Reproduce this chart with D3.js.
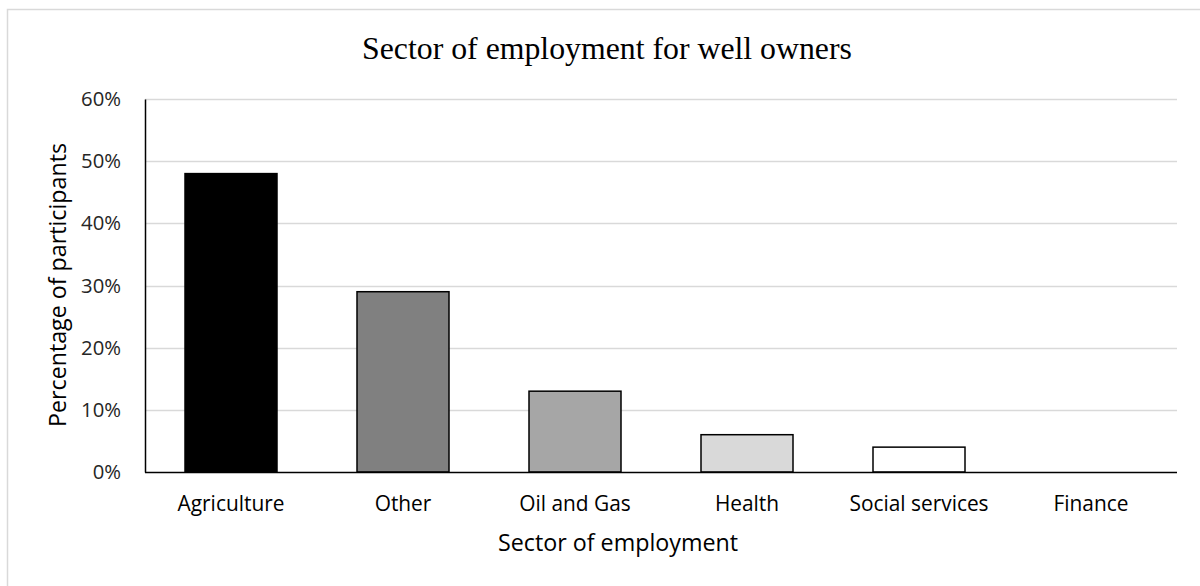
<!DOCTYPE html>
<html>
<head>
<meta charset="utf-8">
<script src="https://cdn.jsdelivr.net/npm/d3@7"></script>
<style>
  html, body { margin: 0; padding: 0; background: #fff; }
  svg { display: block; }
</style>
</head>
<body>
<svg id="chart" width="1200" height="586"></svg>
<script>
const categories = ["Agriculture", "Other", "Oil and Gas", "Health", "Social services", "Finance"];
const values = [0.48, 0.29, 0.13, 0.06, 0.04, 0.0];
const barColors = ["#000000", "#808080", "#a6a6a6", "#d9d9d9", "#ffffff", "#ffffff"];
const yTicks = [0, 0.1, 0.2, 0.3, 0.4, 0.5, 0.6];
const titleText = "Sector of employment for well owners";
const xTitle = "Sector of employment";
const yTitle = "Percentage of participants";

const svg = d3.select("#chart");
const sans = "'Open Sans', 'Noto Sans', sans-serif";
const serif = "'Liberation Serif', 'Times New Roman', serif";

svg.append("rect").attr("x", 7.5).attr("y", 9.5).attr("width", 1300).attr("height", 700)
  .attr("fill", "none").attr("stroke", "#d9d9d9").attr("stroke-width", 1.5);

const plot = { left: 145, right: 1177, top: 99, bottom: 472 };

const x = d3.scaleBand().domain(categories).range([plot.left, plot.right]).paddingInner(80/172).paddingOuter(40/172);
const y = d3.scaleLinear().domain([0, 0.6]).range([plot.bottom, plot.top]);

function fit(sel, target) {
  const node = sel.node();
  const fs = parseFloat(sel.attr("font-size"));
  const w = node.getComputedTextLength();
  const nf = w > 0 ? fs * target / w : fs;
  sel.attr("font-size", nf.toFixed(2));
  return nf;
}

svg.append("g").selectAll("line").data(yTicks.filter(d => d > 0)).join("line")
  .attr("x1", plot.left).attr("x2", plot.right)
  .attr("y1", d => Math.round(y(d)) + 0.5).attr("y2", d => Math.round(y(d)) + 0.5)
  .attr("stroke", "#d9d9d9").attr("stroke-width", 1.5);

svg.append("g").selectAll("rect").data(categories.map((c, i) => ({ c, v: values[i], col: barColors[i] })))
  .join("rect")
  .filter(d => d.v > 0)
  .attr("x", d => x(d.c))
  .attr("y", d => y(d.v))
  .attr("width", x.bandwidth())
  .attr("height", d => y(0) - y(d.v))
  .attr("fill", d => d.col)
  .attr("stroke", "#000").attr("stroke-width", 1.5);

const yAxis = d3.axisLeft(y).tickValues(yTicks).tickFormat(d3.format(".0%")).tickSize(0).tickPadding(24);
const gy = svg.append("g").attr("transform", `translate(${plot.left},0)`).call(yAxis);
gy.select(".domain").attr("stroke", "#000").attr("stroke-width", 1.5);
gy.selectAll("text").attr("font-family", sans).attr("font-size", 16).attr("fill", "#262626");
const ySize = fit(gy.selectAll("text").filter(d => d === 0.6), 40);
gy.selectAll("text").attr("font-size", ySize.toFixed(2));

const xAxis = d3.axisBottom(x).tickSize(0).tickPadding(24);
const gx = svg.append("g").attr("transform", `translate(0,${plot.bottom})`).call(xAxis);
gx.select(".domain").attr("stroke", "#000").attr("stroke-width", 1.5).attr("d", `M${plot.left},0.5H${plot.right}`);
gx.selectAll("text").attr("font-family", sans).attr("font-size", 16).attr("fill", "#000");
const xSize = fit(gx.selectAll("text").filter(d => d === "Agriculture"), 107);
gx.selectAll("text").attr("font-size", xSize.toFixed(2));

const t = svg.append("text").attr("x", 607).attr("y", 59).attr("text-anchor", "middle")
  .attr("font-family", serif).attr("font-size", 26).attr("fill", "#000").text(titleText);
fit(t, 490);

const xt = svg.append("text").attr("x", 618).attr("y", 551).attr("text-anchor", "middle")
  .attr("font-family", sans).attr("font-size", 20).attr("fill", "#000").text(xTitle);
fit(xt, 240);

const yt = svg.append("text").attr("transform", "translate(66,285) rotate(-90)").attr("text-anchor", "middle")
  .attr("font-family", sans).attr("font-size", 20).attr("fill", "#000").text(yTitle);
fit(yt, 284);
</script>
</body>
</html>
